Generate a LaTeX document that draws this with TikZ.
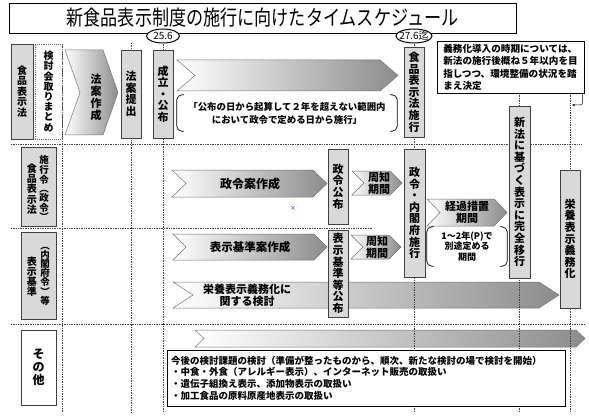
\documentclass[tikz,border=0pt]{standalone}
\usepackage{fontspec}
\setmainfont{Noto Sans CJK JP}
\usetikzlibrary{positioning, shapes.geometric, arrows.meta}
\tikzset{
    stage/.style={draw=black!75, fill=black!15, line width=0.9pt, inner sep=0pt, minimum width=20pt, align=center, font=\fontsize{11}{11.6}\selectfont\bfseries},
    band/.style={left color=white, right color=black!45, draw=black!55, line width=0.5pt},
    guide/.style={densely dotted, line width=0.7pt, black!75},
    day/.style={ellipse, draw=black, line width=1pt, fill=white, inner sep=-2pt, minimum width=33pt, minimum height=14pt, font=\fontsize{10}{10}\selectfont},
    lab/.style={align=center, inner sep=0pt, font=\fontsize{11}{12}\selectfont\bfseries},
    memo/.style={draw, line width=0.7pt, fill=white, align=left, inner sep=3pt, font=\fontsize{9.6}{12.3}\selectfont\bfseries},
}
\newcommand{\chev}[5]{%
    \path[band] (#1,#2) -- (#3-#5,#2) -- (#3,{(#2+#4)/2}) -- (#3-#5,#4) -- (#1,#4) -- (#1+#5,{(#2+#4)/2}) -- cycle;}
\begin{document}
\begin{tikzpicture}[x=1pt, y=-1pt]
\useasboundingbox (0,0) rectangle (589,417);
% title
\node[draw, line width=0.7pt, minimum width=507pt, minimum height=30pt, inner sep=0pt, font=\fontsize{19}{19}\selectfont] (title) at (262.5,18) {\scalebox{0.9}[1.1]{新食品表示制度の施行に向けたタイムスケジュール}};

% bands
\chev{65}{50}{118}{135}{15}
\chev{177}{60}{398}{91}{18}
\chev{172}{170}{327}{197}{14}
\chev{352}{171}{402}{195}{12}
\chev{427}{199}{507}{226}{13}
\chev{173}{234}{327}{260}{13}
\chev{351}{235}{401}{259}{12}
\chev{173}{282}{559}{308}{20}
\chev{195}{330}{585}{347}{9}

% rows and columns
\draw[guide] (11,144) -- (582,144);
\draw[guide] (11,228) -- (373,228);
\draw[guide] (11,324) -- (585,324);
\draw[guide] (62,44) -- (62,412);
\draw[guide] (131,43) -- (131,412);
\draw[guide] (163,42) -- (163,412);
\draw[guide] (414,42) -- (414,412);
\draw[guide] (519,93) -- (519,412);
\draw[guide] (570,93) -- (570,412);
\node[day] (d1) at (163,36) {25.6};
\node[day] (d2) at (414,36) {27.6迄};

% row 1
\node[stage, minimum width=22pt, minimum height=95pt, font=\fontsize{10}{10.5}\selectfont\bfseries] (law) at (22,91.5) {食\\品\\表\\示\\法};
\node[stage, draw=black!60, densely dotted, fill=white, line width=0.7pt, minimum width=27pt, minimum height=95pt, font=\fontsize{10}{10.2}\selectfont\bfseries] (kentou) at (48.5,91.5) {検\\討\\会\\取\\り\\ま\\と\\め};
\node[lab] (hoan) at (96,97) {法\\案\\作\\成};
\node[stage, minimum height=88pt] (teishutsu) at (131,94) {法\\案\\提\\出};
\node[stage, minimum height=88pt] (seiritsu) at (163,94) {成\\立\\・\\公\\布};
\node[lab, minimum width=220pt, minimum height=36pt, font=\fontsize{9.4}{13}\selectfont\bfseries] (kikan) at (287,113) {「公布の日から起算して２年を超えない範囲内\\において政令で定める日から施行」};
\draw[line width=0.7pt, rounded corners=5pt] ([xshift=7pt]kikan.north west) -- (kikan.north west) -- (kikan.south west) -- ([xshift=7pt]kikan.south west);
\draw[line width=0.7pt, rounded corners=5pt] ([xshift=-7pt]kikan.north east) -- (kikan.north east) -- (kikan.south east) -- ([xshift=-7pt]kikan.south east);
\node[stage, minimum height=90pt] (shikou) at (414,92) {食\\品\\表\\示\\法\\施\\行};
\node[memo, minimum width=147pt, minimum height=51pt] (gimu) at (510.5,67.5) {義務化導入の時期については、\\新法の施行後概ね５年以内を目\\指しつつ、環境整備の状況を踏\\まえ決定};
\coordinate (hk) at (572,105);
\draw[-{Stealth[length=3pt]}, line width=0.5pt, rounded corners=2pt] ([xshift=-2pt]gimu.south east) |- (hk);

% row 2
\node[stage, minimum width=35pt, minimum height=79pt] (law2) at (38.5,186.5) {};
\node[lab, font=\fontsize{9.5}{9}\selectfont\bfseries] (law2a) at (44,188) {施\\行\\令\\︵\\政\\令\\︶};
\node[lab, font=\fontsize{10}{10.4}\selectfont\bfseries] (law2b) at (32,189) {食\\品\\表\\示\\法};
\node[lab, font=\fontsize{12}{12}\selectfont\bfseries] (zrs) at (250,183.5) {政令案作成};
\node[inner sep=0pt, text=blue, font=\fontsize{6}{6}\selectfont] (mk) at (293,208) {×};
\node[stage, minimum height=75pt] (seireikofu) at (338,186.5) {政\\令\\公\\布};
\node[lab] (shuchi1) at (379,183) {周知\\期間};
\node[stage, minimum width=21pt, minimum height=128pt] (naikakufu) at (414.5,213) {政\\令\\・\\内\\閣\\府\\施\\行};
\node[lab] (keika) at (467,212.5) {経過措置\\期間};
\node[lab, minimum width=80pt, minimum height=39pt, font=\fontsize{9}{10.5}\selectfont\bfseries] (keikab) at (467,246.5) {1～2年(P)で\\別途定める\\期間};
\draw[line width=0.7pt, rounded corners=5pt] ([xshift=7pt]keikab.north west) -- (keikab.north west) -- (keikab.south west) -- ([xshift=7pt]keikab.south west);
\draw[line width=0.7pt, rounded corners=5pt] ([xshift=-7pt]keikab.north east) -- (keikab.north east) -- (keikab.south east) -- ([xshift=-7pt]keikab.south east);

% row 3
\node[stage, minimum width=35pt, minimum height=87pt] (kijun) at (38.5,275.5) {};
\node[lab, font=\fontsize{9.5}{9.2}\selectfont\bfseries] (kijuna) at (45,276) {︵\\内\\閣\\府\\令\\︶\\等};
\node[lab, font=\fontsize{10}{10}\selectfont\bfseries] (kijunb) at (32,277) {表\\示\\基\\準};
\node[lab, font=\fontsize{11.5}{12}\selectfont\bfseries] (hkan) at (250,247) {表示基準案作成};
\node[stage, minimum height=87pt] (kijunkofu) at (338,273.5) {表\\示\\基\\準\\等\\公\\布};
\node[lab] (shuchi2) at (377,247) {周知\\期間};
\node[lab] (eiyoken) at (247,295) {栄養表示義務化に\\関する検討};
\node[stage, minimum width=21pt, minimum height=172pt] (shinpou) at (519.5,192) {新\\法\\に\\基\\づ\\く\\表\\示\\に\\完\\全\\移\\行};
\node[stage, minimum height=138pt] (eiyou) at (570,239) {栄\\養\\表\\示\\義\\務\\化};

% row 4
\node[stage, fill=white, minimum width=35pt, minimum height=75pt, font=\fontsize{12}{13}\selectfont\bfseries] (sonota) at (38.5,367.5) {そ\\の\\他};
\node[memo, text width=390pt, minimum height=56pt, inner sep=4pt, font=\fontsize{9.5}{11.8}\selectfont\bfseries] (kadai) at (366,378) {今後の検討課題の検討（準備が整ったものから、順次、新たな検討の場で検討を開始）\\・中食・外食（アレルギー表示）、インターネット販売の取扱い\\・遺伝子組換え表示、添加物表示の取扱い\\・加工食品の原料原産地表示の取扱い};
\end{tikzpicture}
\end{document}
